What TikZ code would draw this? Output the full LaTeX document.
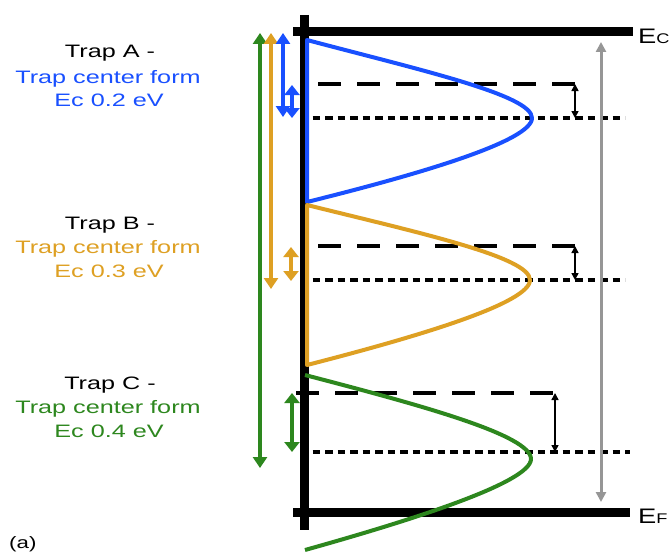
\documentclass[tikz,border=0pt]{standalone}
\usepackage{fontspec}
\setmainfont{Liberation Sans}
\usetikzlibrary{arrows.meta}
\definecolor{tblue}{RGB}{25,80,255}
\definecolor{torange}{RGB}{222,160,35}
\definecolor{tgreen}{RGB}{45,135,30}
\definecolor{tgrey}{RGB}{150,150,150}
\newcommand{\wtxt}[1]{\scalebox{1.4}[1]{#1}}
\tikzset{
  axisln/.style={line width=9pt, black},
  dashln/.style={line width=4pt, dash pattern=on 23pt off 16pt},
  dotln/.style={line width=4pt, dash pattern=on 7.5pt off 5pt},
  trapcurve/.style={line width=4pt, line join=round},
  colarr/.style={line width=4pt, {Triangle[width=14pt,length=11pt]}-{Triangle[width=14pt,length=11pt]}},
  shortarr/.style={line width=4pt, {Triangle[width=15pt,length=10pt]}-{Triangle[width=15pt,length=10pt]}},
  smallarr/.style={line width=1.5pt, {Triangle[width=7pt,length=7pt]}-{Triangle[width=7pt,length=7pt]}},
  greyarr/.style={line width=3pt, tgrey, {Triangle[width=10pt,length=10pt]}-{Triangle[width=10pt,length=10pt]}},
  lbl/.style={anchor=base, inner sep=0pt, font=\fontsize{18}{22}\selectfont},
  bandlbl/.style={anchor=base west, inner sep=0pt, font=\fontsize{21}{24}\selectfont},
}
\begin{document}
\begin{tikzpicture}[x=1pt,y=-1pt]
\useasboundingbox[fill=white] (0,0) rectangle (671,551);

% band lines and axis
\draw[axisln] (304.5,15) -- (304.5,530);
\draw[axisln] (293,32) -- (633,32);
\draw[axisln] (293,512) -- (630,512);

% level lines
\draw[dashln] (318,84) -- (575,84);
\draw[dotln] (300,118) -- (625,118);
\draw[dashln] (318,246) -- (575,246);
\draw[dotln] (300,280) -- (625,280);
\draw[dashln] (296,393) -- (553,393);
\draw[dotln] (300,452) -- (630,452);

% trap distributions
\draw[trapcurve, tblue] (307,40) .. controls (420,70) and (532,95) .. (532,118)
  .. controls (532,141) and (420,174) .. (307,202) -- cycle;
\draw[trapcurve, torange] (307,205) .. controls (420,233) and (530,257) .. (530,280)
  .. controls (530,303) and (420,336) .. (307,365) -- cycle;
\draw[trapcurve, tgreen] (305,375) .. controls (420,405) and (531,435) .. (531,459)
  .. controls (531,483) and (405,522) .. (305,550);

% coordinates for arrows
\coordinate (gT) at (260,33);  \coordinate (gB) at (260,468);
\coordinate (oT) at (271,33);  \coordinate (oB) at (271,289);
\coordinate (bT) at (283,33);  \coordinate (bB) at (283,117);
\coordinate (sbT) at (292,85); \coordinate (sbB) at (292,118);
\coordinate (soT) at (291,247); \coordinate (soB) at (291,281);
\coordinate (sgT) at (292,393); \coordinate (sgB) at (292,452);
\coordinate (kaT) at (575,84);  \coordinate (kaB) at (575,118);
\coordinate (kbT) at (575,246); \coordinate (kbB) at (575,280);
\coordinate (kcT) at (555,393); \coordinate (kcB) at (555,452);
\coordinate (ecA) at (601,42);  \coordinate (efA) at (601,502);

\draw[colarr, tgreen] (gT) -- (gB);
\draw[colarr, torange] (oT) -- (oB);
\draw[colarr, tblue] (bT) -- (bB);
\draw[shortarr, tblue] (sbT) -- (sbB);
\draw[shortarr, torange] (soT) -- (soB);
\draw[shortarr, tgreen] (sgT) -- (sgB);
\draw[smallarr] (kaT) -- (kaB);
\draw[smallarr] (kbT) -- (kbB);
\draw[smallarr] (kcT) -- (kcB);
\draw[greyarr] (ecA) -- (efA);

% band labels
\node[bandlbl] (ec) at (638,44) {\scalebox{1.3}[1]{E{\fontsize{14}{16}\selectfont C}}};
\node[bandlbl] (ef) at (638,523) {\scalebox{1.3}[1]{E{\fontsize{14}{16}\selectfont F}}};

% trap labels
\node[lbl] (a1) at (110,58) {\wtxt{Trap A -}};
\node[lbl, text=tblue] (a2) at (108,83) {\wtxt{Trap center form}};
\node[lbl, text=tblue] (a3) at (109,106) {\wtxt{Ec 0.2 eV}};
\node[lbl] (b1) at (110,229) {\wtxt{Trap B -}};
\node[lbl, text=torange] (b2) at (108,253) {\wtxt{Trap center form}};
\node[lbl, text=torange] (b3) at (109,277) {\wtxt{Ec 0.3 eV}};
\node[lbl] (c1) at (110,389) {\wtxt{Trap C -}};
\node[lbl, text=tgreen] (c2) at (108,413) {\wtxt{Trap center form}};
\node[lbl, text=tgreen] (c3) at (109,437) {\wtxt{Ec 0.4 eV}};

\node[anchor=base west, inner sep=0pt, font=\fontsize{16.5}{18}\selectfont] (lab) at (9,548) {\scalebox{1.35}[1]{(a)}};
\end{tikzpicture}
\end{document}
